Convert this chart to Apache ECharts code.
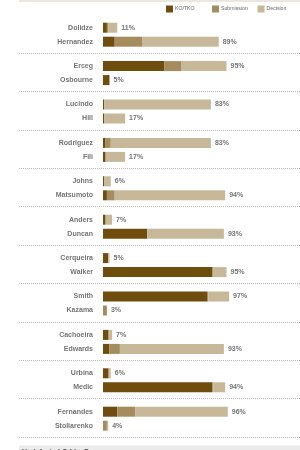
<!DOCTYPE html>
<html><head><meta charset="utf-8">
<script src="https://cdn.jsdelivr.net/npm/echarts@6/dist/echarts.min.js"></script>
<style>html,body{margin:0;padding:0;background:#fff}#c{width:300px;height:450px}</style>
</head><body><div id="c"></div>
<script>
var fighters = ['Dolidze','Hernandez','Erceg','Osbourne','Lucindo','Hill','Rodriguez','Fili','Johns','Matsumoto','Anders','Duncan','Cerqueira','Walker','Smith','Kazama','Cachoeira','Edwards','Urbina','Medic','Fernandes','Stoliarenko'];
var koTko      = [3, 9, 47, 5, 1, 1, 2, 2, 1, 3, 2, 34, 4, 84, 80, 0, 4, 5, 4, 84, 11, 0];
var submission = [1, 21, 13, 0, 0, 0, 4, 0, 0, 6, 0, 0, 0, 1, 1, 3, 1, 8, 1, 1, 14, 3];
var decision   = [7, 59, 35, 0, 82, 16, 77, 15, 5, 85, 5, 59, 1, 10, 16, 0, 2, 80, 1, 9, 71, 1];
var totals     = [11, 89, 95, 5, 83, 17, 83, 17, 6, 94, 7, 93, 5, 95, 97, 3, 7, 93, 6, 94, 96, 4];
var seriesNames = ['KO/TKO', 'Submission', 'Decision'];
var colors = ['#6e4d0e', '#a58c5f', '#c7b899'];

(function () {
  var chart = echarts.init(document.getElementById('c'), null, {renderer: 'canvas'});
  var FONT = 'Liberation Sans, Arial, sans-serif';
  var groups = fighters.length / 2;
  var grids = [], xAxes = [], yAxes = [], series = [], graphics = [];
  var top0 = 20.7, period = 38.4;
  graphics.push({type: 'rect', shape: {x: 19, y: 0, width: 281, height: 2}, style: {fill: '#ebe7de'}, silent: true});
  for (var g = 0; g < groups; g++) {
    var gTop = top0 + period * g;
    grids.push({left: 103, width: 130, top: gTop, height: 28});
    xAxes.push({type: 'value', gridIndex: g, min: 0, max: 100, show: false});
    yAxes.push({type: 'category', gridIndex: g, inverse: true,
      data: fighters.slice(2 * g, 2 * g + 2),
      axisLine: {show: false}, axisTick: {show: false}, splitLine: {show: false},
      axisLabel: {margin: 10, fontSize: 7, fontWeight: 'bold', color: '#747474', fontFamily: FONT}});
    var sets = [koTko, submission, decision];
    for (var s = 0; s < 3; s++) {
      series.push({type: 'bar', name: seriesNames[s], xAxisIndex: g, yAxisIndex: g, stack: 'g' + g,
        barWidth: 10, barGap: '-100%', silent: true,
        itemStyle: {color: colors[s]},
        data: sets[s].slice(2 * g, 2 * g + 2)});
    }
    series.push({type: 'bar', name: 'total', xAxisIndex: g, yAxisIndex: g,
      barWidth: 10, barGap: '-100%', silent: true, z: 1,
      itemStyle: {color: 'rgba(0,0,0,0)'},
      label: {show: true, position: 'right', distance: 4, formatter: '{c}%',
        fontSize: 7, fontWeight: 'bold', color: '#747474', fontFamily: FONT},
      data: totals.slice(2 * g, 2 * g + 2)});
    var sy = Math.round(gTop + 32) + 0.5;
    graphics.push({type: 'line', shape: {x1: 19, y1: sy, x2: 300, y2: sy}, silent: true,
      style: {stroke: '#b8b8b8', lineWidth: 1, lineDash: [1, 1]}});
  }
  graphics.push({type: 'rect', shape: {x: 19, y: 445.5, width: 281, height: 5}, style: {fill: '#ebebeb'}, silent: true});
  graphics.push({type: 'text', x: 22, y: 448.5, silent: true,
    style: {text: 'Undefeated Odds: Draw', fontSize: 7, fontWeight: 'bold', fill: '#444', fontFamily: FONT}});

  function legendAt(name, left) {
    return {data: [name], left: left, top: 5.5, itemWidth: 7, itemHeight: 7, icon: 'rect',
      selectedMode: false, padding: 0,
      textStyle: {fontSize: 5.2, color: '#666', fontFamily: FONT, padding: [0, 0, 0, -3]}};
  }
  chart.setOption({
    animation: false,
    color: colors,
    legend: [legendAt('KO/TKO', 166), legendAt('Submission', 212), legendAt('Decision', 257.5)],
    grid: grids, xAxis: xAxes, yAxis: yAxes, series: series, graphic: graphics
  });
})();
</script></body></html>
